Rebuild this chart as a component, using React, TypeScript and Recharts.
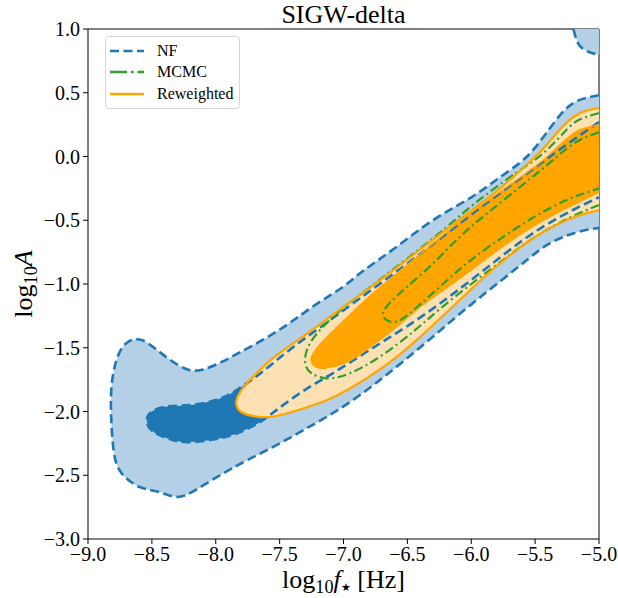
import React from 'react';
import { ScatterChart, Scatter, XAxis, YAxis, Legend, ReferenceLine } from 'recharts';

const xTicks = [-9, -8.5, -8, -7.5, -7, -6.5, -6, -5.5, -5];
const yTicks = [1, 0.5, 0, -0.5, -1, -1.5, -2, -2.5, -3];

// contour outlines, [log10 f, log10 A] pairs, running from the right edge round and back
const nfOuter = [
  [-5.0, 0.48], [-5.1, 0.46], [-5.2, 0.42], [-5.3, 0.33], [-5.4, 0.2], [-5.5, 0.07],
  [-5.62, -0.05], [-5.8, -0.18], [-6.0, -0.32], [-6.3, -0.5], [-6.6, -0.72], [-6.85, -0.9],
  [-7.0, -1.02], [-7.2, -1.15], [-7.4, -1.29], [-7.6, -1.42], [-7.8, -1.53], [-7.95, -1.61],
  [-8.1, -1.67], [-8.22, -1.67], [-8.35, -1.6], [-8.47, -1.51], [-8.58, -1.44], [-8.68, -1.45],
  [-8.76, -1.55], [-8.81, -1.75], [-8.82, -2.0], [-8.8, -2.3], [-8.74, -2.48], [-8.6, -2.59],
  [-8.45, -2.63], [-8.3, -2.67], [-8.15, -2.61], [-7.95, -2.49], [-7.75, -2.38], [-7.5, -2.25],
  [-7.25, -2.11], [-7.0, -1.96], [-6.75, -1.78], [-6.5, -1.58], [-6.25, -1.37], [-6.0, -1.16],
  [-5.75, -0.96], [-5.55, -0.8], [-5.4, -0.69], [-5.25, -0.62], [-5.12, -0.58], [-5.0, -0.56],
];

const nfInner = [
  [-5.0, 0.27], [-5.3, 0.06], [-5.6, -0.16], [-5.9, -0.38], [-6.2, -0.61], [-6.5, -0.84],
  [-6.8, -1.06], [-7.1, -1.28], [-7.4, -1.5], [-7.65, -1.7], [-7.85, -1.84], [-8.0, -1.91],
  [-8.2, -1.95], [-8.38, -1.96], [-8.5, -2.0], [-8.54, -2.07], [-8.5, -2.15], [-8.38, -2.21],
  [-8.23, -2.24], [-8.02, -2.22], [-7.83, -2.17], [-7.65, -2.08], [-7.5, -1.97], [-7.3, -1.83],
  [-7.1, -1.71], [-6.8, -1.52], [-6.5, -1.33], [-6.2, -1.12], [-5.9, -0.89], [-5.6, -0.66],
  [-5.3, -0.47], [-5.0, -0.32],
];

const nfCorner = [[-5.2, 1.0], [-5.17, 0.9], [-5.12, 0.84], [-5.05, 0.81], [-5.0, 0.8]];
const nfCornerEdge = [[-5.0, 1.0]];

const mcmcOuter = [
  [-5.0, 0.34], [-5.1, 0.31], [-5.2, 0.26], [-5.3, 0.16], [-5.42, 0.04], [-5.55, -0.06],
  [-5.75, -0.2], [-6.0, -0.39], [-6.2, -0.56], [-6.5, -0.8], [-6.8, -1.03], [-7.05, -1.23],
  [-7.2, -1.38], [-7.28, -1.5], [-7.3, -1.62], [-7.25, -1.7], [-7.13, -1.74], [-6.95, -1.7],
  [-6.7, -1.56], [-6.45, -1.37], [-6.25, -1.2], [-6.0, -1.0], [-5.75, -0.81], [-5.5, -0.63],
  [-5.23, -0.48], [-5.0, -0.38],
];

const mcmcInner = [
  [-5.0, 0.19], [-5.15, 0.13], [-5.28, 0.04], [-5.41, -0.07], [-5.62, -0.24], [-5.88, -0.45],
  [-6.1, -0.64], [-6.3, -0.84], [-6.5, -1.02], [-6.63, -1.14], [-6.69, -1.23], [-6.65, -1.29],
  [-6.55, -1.28], [-6.4, -1.16], [-6.2, -0.98], [-6.0, -0.81], [-5.75, -0.63], [-5.5, -0.47],
  [-5.25, -0.34], [-5.0, -0.25],
];

const rwOuter = [
  [-5.0, 0.38], [-5.1, 0.36], [-5.2, 0.31], [-5.3, 0.22], [-5.42, 0.08], [-5.55, -0.05],
  [-5.8, -0.27], [-6.1, -0.5], [-6.4, -0.73], [-6.7, -0.96], [-7.0, -1.18], [-7.3, -1.4],
  [-7.55, -1.58], [-7.72, -1.74], [-7.81, -1.85], [-7.84, -1.94], [-7.79, -2.01], [-7.68, -2.04],
  [-7.55, -2.04], [-7.36, -1.99], [-7.15, -1.92], [-6.95, -1.82], [-6.7, -1.66], [-6.45, -1.46],
  [-6.2, -1.23], [-6.0, -1.04], [-5.8, -0.86], [-5.6, -0.7], [-5.45, -0.6], [-5.3, -0.52],
  [-5.15, -0.46], [-5.0, -0.42],
];

const rwInner = [
  [-5.0, 0.25], [-5.15, 0.21], [-5.25, 0.14], [-5.36, 0.04], [-5.5, -0.08], [-5.75, -0.26],
  [-6.0, -0.44], [-6.2, -0.6], [-6.5, -0.85], [-6.8, -1.1], [-7.05, -1.34], [-7.18, -1.47],
  [-7.25, -1.57], [-7.24, -1.63], [-7.15, -1.66], [-6.95, -1.6], [-6.8, -1.5], [-6.6, -1.35],
  [-6.4, -1.18], [-6.15, -1.0], [-5.88, -0.8], [-5.6, -0.6], [-5.36, -0.46], [-5.2, -0.38],
  [-5.0, -0.28],
];

const SERIF = '"Liberation Serif", "Times New Roman", serif';
const BLUE = '#1f77b4';
const BLUE_LIGHT = '#b3d0e6';
const GREEN = '#2ca02c';
const ORANGE = '#ffa500';
const ORANGE_LIGHT = '#fde1b2';
const NF_DASH = '9 4.5';
const MCMC_DASH = '9 3.5 2 3.5';

const legendItems = [
  { name: 'NF', color: BLUE, dash: NF_DASH },
  { name: 'MCMC', color: GREEN, dash: '17 4 2.5 4' },
  { name: 'Reweighted', color: ORANGE, dash: undefined },
];

const toPoints = (arr: number[][]) => arr.map(([x, y]) => ({ x, y }));
const fmt = (v: number) => (v < 0 ? '\u2212' : '') + Math.abs(v).toFixed(1);
const NoDot = () => <g />;
const tickStyle = { fontSize: 20, fill: '#000', fontFamily: SERIF };

const renderLegend = () => (
  <div
    style={{
      border: '1px solid #d6d6d6',
      borderRadius: 4,
      background: 'rgba(255,255,255,0.85)',
      padding: '3px 6px 3px 4px',
      fontFamily: SERIF,
      fontSize: 16,
      color: '#000',
    }}
  >
    {legendItems.map((item) => (
      <div key={item.name} style={{ display: 'flex', alignItems: 'center', height: 21.5 }}>
        <svg width={34} height={8} style={{ marginRight: 13 }}>
          <line x1={0} y1={4} x2={34} y2={4} stroke={item.color} strokeWidth={2.6} strokeDasharray={item.dash} />
        </svg>
        <span>{item.name}</span>
      </div>
    ))}
  </div>
);

// filled region: an open natural curve, filled, closes itself along the frame
const fillSeries = (name: string, arr: number[][], color: string, joint: any = 'natural') => (
  <Scatter
    key={'fill-' + name}
    data={toPoints(arr)}
    shape={NoDot}
    line={{ fill: color, stroke: 'none' }}
    lineJointType={joint}
    legendType="none"
    isAnimationActive={false}
  />
);

const lineSeries = (name: string, arr: number[][], color: string, width: number, dash?: string) => (
  <Scatter
    key={'line-' + name}
    data={toPoints(arr)}
    shape={NoDot}
    line={{ fill: 'none', stroke: color, strokeWidth: width, strokeDasharray: dash }}
    lineJointType="natural"
    legendType="none"
    isAnimationActive={false}
  />
);

const sub = { fontSize: '0.7em', verticalAlign: '-0.28em' };

export default function App() {
  return (
    <div
      className="sigw"
      style={{ position: 'absolute', left: 0, top: 0, width: 618, height: 598, background: '#fff', fontFamily: SERIF }}
    >
      <style>{`.sigw svg text { font-family: ${SERIF}; }`}</style>
      <ScatterChart width={618} height={598} margin={{ top: 29, right: 19, bottom: 29, left: 28 }}>
        <XAxis
          type="number"
          dataKey="x"
          domain={[-9, -5]}
          ticks={xTicks}
          allowDataOverflow
          tickFormatter={fmt}
          height={30}
          tickSize={5}
          tickMargin={3}
          tick={tickStyle}
          stroke="#000"
        />
        <YAxis
          type="number"
          dataKey="y"
          domain={[-3, 1]}
          ticks={yTicks}
          allowDataOverflow
          tickFormatter={fmt}
          width={60}
          tickSize={5}
          tickMargin={3}
          tick={tickStyle}
          stroke="#000"
        />

        {fillSeries('nfOuter', nfOuter, BLUE_LIGHT)}
        {fillSeries('nfInner', nfInner, BLUE)}
        {fillSeries('nfCorner', [...nfCorner, ...nfCornerEdge], BLUE_LIGHT, 'linearClosed')}
        {fillSeries('rwOuter', rwOuter, ORANGE_LIGHT)}
        {fillSeries('rwInner', rwInner, ORANGE)}

        {lineSeries('nfOuter', nfOuter, BLUE, 2.6, NF_DASH)}
        {lineSeries('nfInner', nfInner, BLUE, 2.6, NF_DASH)}
        {lineSeries('nfCorner', nfCorner, BLUE, 2.6, NF_DASH)}
        {lineSeries('mcmcOuter', mcmcOuter, GREEN, 2.2, MCMC_DASH)}
        {lineSeries('mcmcInner', mcmcInner, GREEN, 2.2, MCMC_DASH)}
        {lineSeries('rwOuter', rwOuter, ORANGE, 2.2)}
        {lineSeries('rwInner', rwInner, ORANGE, 1.5)}

        {/* frame: top and right spines */}
        <ReferenceLine y={1} stroke="#000" strokeWidth={1} />
        <ReferenceLine x={-5} stroke="#000" strokeWidth={1} />

        <Legend
          content={renderLegend}
          layout="vertical"
          align="center"
          verticalAlign="middle"
          wrapperStyle={{ left: 105, top: 36, width: 'auto' }}
        />
      </ScatterChart>

      <div
        style={{
          position: 'absolute', top: 0, left: 88, width: 511, textAlign: 'center',
          fontSize: 26, lineHeight: '29px', color: '#000',
        }}
      >
        SIGW-delta
      </div>
      <div
        style={{
          position: 'absolute', top: 567, left: 88, width: 511, height: 28, textAlign: 'center',
          fontSize: 26, lineHeight: '26px', color: '#000', whiteSpace: 'nowrap',
        }}
      >
        log<span style={sub}>10</span>
        <i>f</i>
        <span style={{ fontSize: '0.42em', verticalAlign: '-0.3em' }}>★</span> [Hz]
      </div>
      <div
        style={{
          position: 'absolute', top: 269, left: -126, width: 300, height: 30, textAlign: 'center',
          transform: 'rotate(-90deg)', fontSize: 26, lineHeight: '30px',
          color: '#000', whiteSpace: 'nowrap',
        }}
      >
        log<span style={sub}>10</span>
        <i>A</i>
      </div>
    </div>
  );
}
